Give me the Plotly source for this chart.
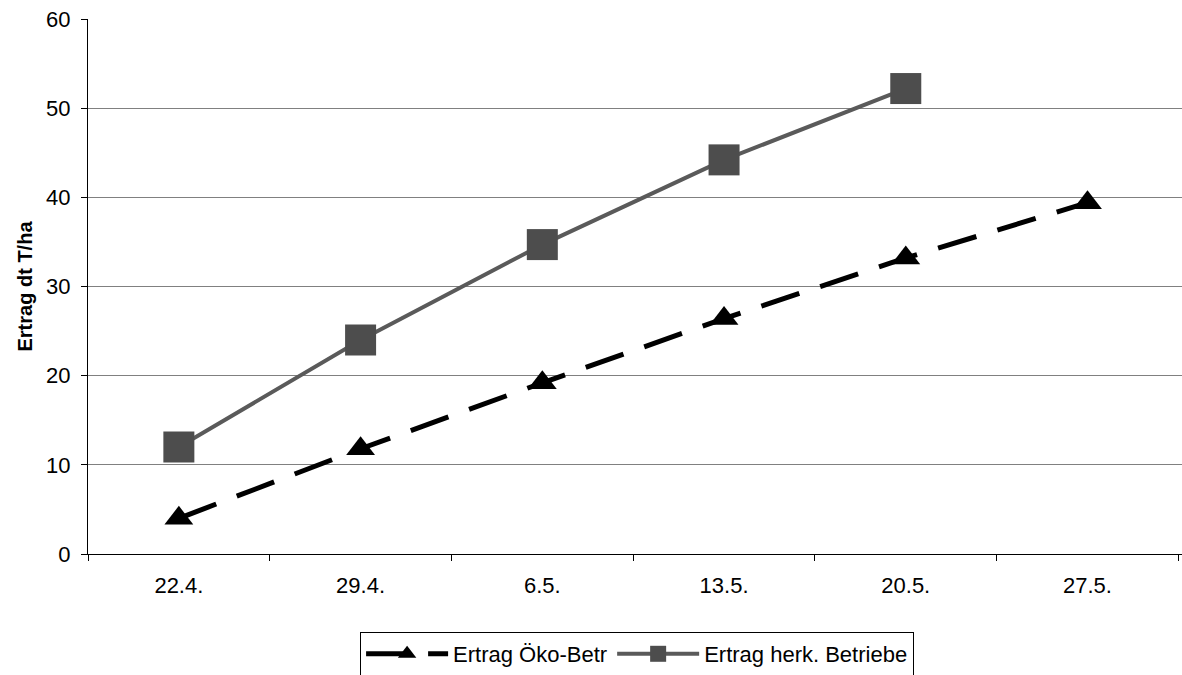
import plotly.graph_objects as go

categories = ["22.4.", "29.4.", "6.5.", "13.5.", "20.5.", "27.5."]
oeko = [4.0, 11.8, 19.2, 26.4, 33.2, 39.4]
herk = [12.0, 24.0, 34.7, 44.2, 52.2]
y_ticks = [0, 10, 20, 30, 40, 50, 60]

FONT = "Liberation Sans, Arial, sans-serif"

fig = go.Figure()
fig.add_trace(go.Scatter(
    x=categories, y=oeko, mode="lines+markers", name="Ertrag Öko-Betr",
    line=dict(color="black", width=5, dash="40px,22px"),
    marker=dict(symbol="triangle-up", size=25, color="black"),
))
fig.add_trace(go.Scatter(
    x=categories[:len(herk)], y=herk, mode="lines+markers", name="Ertrag herk. Betriebe",
    line=dict(color="#5a5a5a", width=4),
    marker=dict(symbol="square", size=31, color="#4d4d4d"),
))

fig.update_layout(
    width=1182, height=675,
    margin=dict(l=88, r=0, t=19, b=121),
    paper_bgcolor="white", plot_bgcolor="white",
    font=dict(family=FONT, size=22, color="black"),
    showlegend=True,
    legend=dict(orientation="h", x=0.539, xanchor="center", xref="container",
                y=(675 - 632) / 675, yanchor="top", yref="container",
                bordercolor="black", borderwidth=1, font=dict(size=22),
                itemwidth=82, tracegroupgap=0),
)
fig.update_xaxes(
    type="category", categoryorder="array", categoryarray=categories,
    range=[-0.5, 5.52], showline=True, linecolor="black", linewidth=1,
    ticks="outside", tickson="boundaries", ticklen=6, tickcolor="black",
    showgrid=False, tickfont=dict(size=22), ticklabelstandoff=12,
)
fig.update_yaxes(
    range=[0, 60], tickvals=y_ticks, showline=True, linecolor="black", linewidth=1,
    ticks="outside", ticklen=6, tickcolor="black",
    showgrid=True, gridcolor="#808080", gridwidth=1, zeroline=False,
    title=dict(text="<b>Ertrag dt T/ha</b>", font=dict(size=20), standoff=8),
    tickfont=dict(size=22), ticklabelstandoff=6,
)

fig.write_html("out.html")
